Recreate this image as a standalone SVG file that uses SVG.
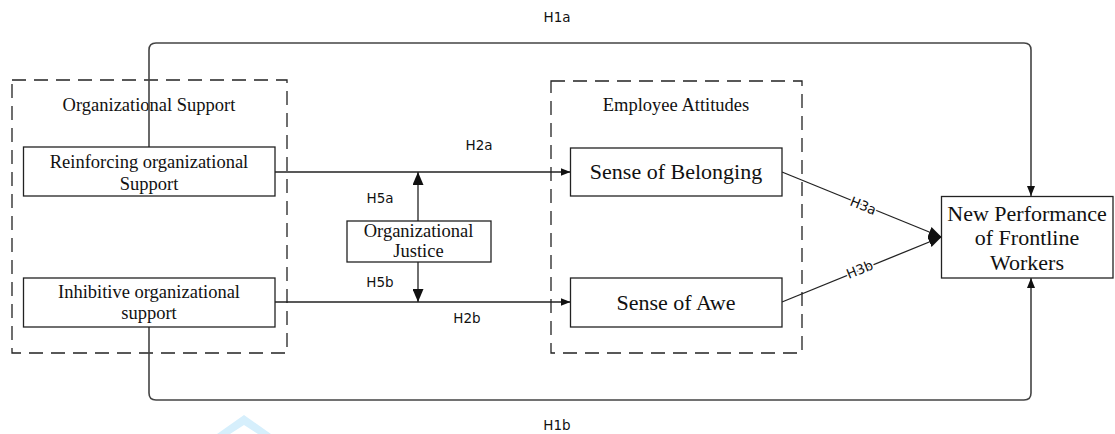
<svg xmlns="http://www.w3.org/2000/svg" width="1115" height="434" viewBox="0 0 1115 434">
<style>
.bg{fill:#fff}
.box{fill:#fff;stroke:#222;stroke-width:1.3}
.dash{fill:none;stroke:#222;stroke-width:1.3;stroke-dasharray:14 8}
.ln{fill:none;stroke:#222;stroke-width:1.3}
.loop{fill:none;stroke:#444;stroke-width:1.6}
.t{font-family:"Liberation Serif","Times New Roman",serif;font-size:18.5px;fill:#111;text-anchor:middle}
.tl{font-family:"Liberation Serif","Times New Roman",serif;font-size:22px;fill:#111;text-anchor:middle}
.h{font-family:"DejaVu Sans","Noto Sans",sans-serif;font-size:13.5px;fill:#111;text-anchor:middle}
.hh{paint-order:stroke;stroke:#fff;stroke-width:3px}
</style>
<defs>
<marker id="aS" markerUnits="userSpaceOnUse" markerWidth="10" markerHeight="8" refX="10" refY="4" orient="auto"><path d="M0,0 L10,4 L0,8 z" fill="#111"/></marker>
<marker id="aL" markerUnits="userSpaceOnUse" markerWidth="13" markerHeight="11" refX="13" refY="5.5" orient="auto"><path d="M0,0 L13,5.5 L0,11 z" fill="#111"/></marker>
</defs>
<rect class="bg" x="0" y="0" width="1115" height="434"/>
<path d="M217,434 L244,415 L271,434 L258,434 L244,425 L230,434 Z" fill="#d6effc"/>
<g id="group-org-support"><rect class="dash" x="12" y="80" width="275" height="273"/><text class="t" x="149" y="111">Organizational Support</text></g>
<g id="group-employee-attitudes"><rect class="dash" x="551" y="81" width="251" height="272"/><text class="t" x="676" y="111">Employee Attitudes</text></g>
<g id="connectors">
<path class="loop" d="M149,147 V50 Q149,43 156,43 H1024 Q1031,43 1031,50 V196" marker-end="url(#aS)"/>
<path class="loop" d="M149,327 V393 Q149,400 156,400 H1024 Q1031,400 1031,393 V278" marker-end="url(#aS)"/>
<path class="ln" d="M275,172 H570.5" marker-end="url(#aS)"/>
<path class="ln" d="M275,302 H570.5" marker-end="url(#aS)"/>
<path class="ln" d="M418,221 V172" marker-end="url(#aL)"/>
<path class="ln" d="M418,262 V302" marker-end="url(#aL)"/>
<path class="ln" d="M782,172 L941.5,237" marker-end="url(#aL)"/>
<path class="ln" d="M782,302 L941.5,237" marker-end="url(#aL)"/>
<text class="h" x="557" y="21.5">H1a</text>
<text class="h" x="557" y="430">H1b</text>
<text class="h" x="479" y="150">H2a</text>
<text class="h" x="467" y="323">H2b</text>
<text class="h" x="380" y="202.5">H5a</text>
<text class="h" x="380" y="287">H5b</text>
<text class="h hh" x="0" y="0" transform="translate(861.5,210) rotate(22)">H3a</text>
<text class="h hh" x="0" y="0" transform="translate(861.5,274) rotate(-22)">H3b</text>
</g>
<g id="node-reinforcing"><rect class="box" x="23.5" y="147" width="251.5" height="49"/><text class="t" x="149" y="168">Reinforcing organizational</text><text class="t" x="149" y="190">Support</text></g>
<g id="node-inhibitive"><rect class="box" x="23.5" y="278" width="251.5" height="49"/><text class="t" x="149" y="298">Inhibitive organizational</text><text class="t" x="149" y="318.5">support</text></g>
<g id="node-justice"><rect class="box" x="347" y="221" width="144" height="41"/><text class="t" x="418.5" y="236.5">Organizational</text><text class="t" x="418.5" y="257">Justice</text></g>
<g id="node-belonging"><rect class="box" x="570.5" y="148" width="211.5" height="48"/><text class="tl" x="676" y="179">Sense of Belonging</text></g>
<g id="node-awe"><rect class="box" x="570.5" y="278" width="211.5" height="49"/><text class="tl" x="676" y="310">Sense of Awe</text></g>
<g id="node-performance"><rect class="box" x="941.5" y="196.5" width="171.5" height="81.5"/><text class="tl" x="1027" y="220.5">New Performance</text><text class="tl" x="1027" y="245">of Frontline</text><text class="tl" x="1027" y="269.5">Workers</text></g>
</svg>
